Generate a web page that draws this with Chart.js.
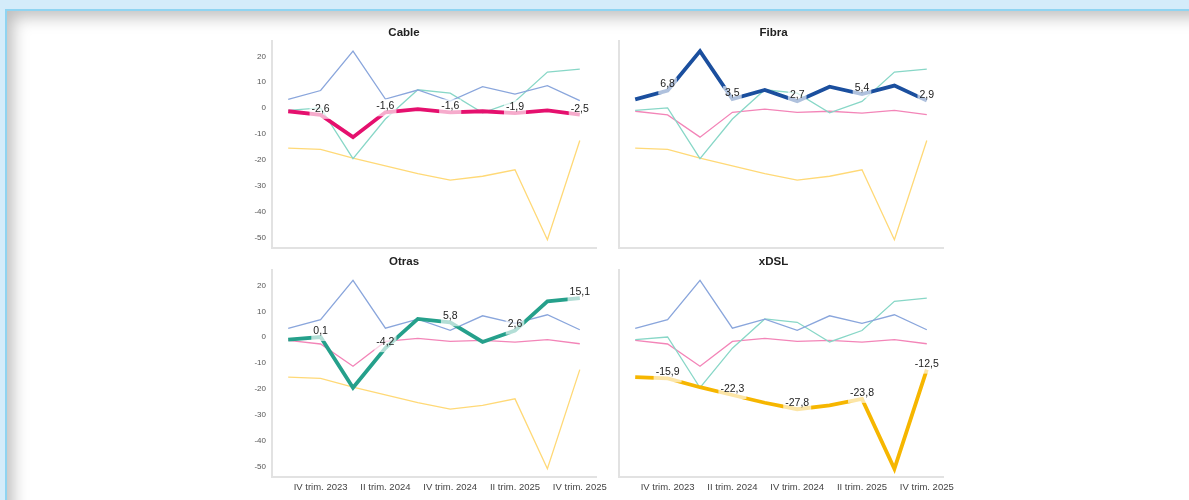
<!DOCTYPE html>
<html>
<head>
<meta charset="utf-8">
<script src="https://cdn.jsdelivr.net/npm/chart.js@4.4.1/dist/chart.umd.min.js"></script>
<style>
  html, body { margin: 0; padding: 0; width: 1189px; height: 500px; overflow: hidden; background: #d4ecfa; }
  .panel {
    position: absolute; left: 5px; top: 9px; right: -40px; bottom: -40px;
    background: #ffffff;
    border-left: 2px solid #8fd4f1; border-top: 2px solid #8fd4f1;
    box-shadow: inset 6px 6px 16px rgba(0, 0, 0, 0.26);
  }
  .box { position: absolute; }
</style>
</head>
<body>
<div class="panel"></div>
<div class="box" style="left:212px;top:20px;"><canvas id="cCable" width="392" height="232"></canvas></div>
<div class="box" style="left:604px;top:20px;"><canvas id="cFibra" width="347" height="232"></canvas></div>
<div class="box" style="left:212px;top:250px;"><canvas id="cOtras" width="420" height="251"></canvas></div>
<div class="box" style="left:604px;top:250px;"><canvas id="cXdsl" width="380" height="251"></canvas></div>
<script>
// trimestres
const labels = ["III trim. 2023", "IV trim. 2023", "I trim. 2024", "II trim. 2024", "III trim. 2024",
  "IV trim. 2024", "I trim. 2025", "II trim. 2025", "III trim. 2025", "IV trim. 2025"];
// variación interanual (%) por tecnología
const cable = [-1.2, -2.6, -11.2, -1.6, -0.4, -1.6, -1.2, -1.9, -0.9, -2.5];
const fibra = [3.4, 6.8, 22.0, 3.5, 7.0, 2.7, 8.3, 5.4, 8.7, 2.9];
const otras = [-0.9, 0.1, -19.5, -4.2, 7.1, 5.8, -1.8, 2.6, 13.9, 15.1];
const xdsl = [-15.4, -15.9, -19.3, -22.3, -25.3, -27.8, -26.3, -23.8, -50.8, -12.5];
const yTicks = [-50, -40, -30, -20, -10, 0, 10, 20];

const FONT = "'Liberation Sans', Arial, sans-serif";
const series = {
  Cable: { data: cable, strong: "#e5106e", soft: "#f385b8" },
  Fibra: { data: fibra, strong: "#1b4f9e", soft: "#8aa6dc" },
  Otras: { data: otras, strong: "#25a08b", soft: "#88d7c7" },
  xDSL: { data: xdsl, strong: "#f6b600", soft: "#ffd977" },
};
const order = ["Fibra", "Otras", "Cable", "xDSL"];

// etiquetas de valor con fondo blanco translúcido
const valueLabels = {
  id: "valueLabels",
  afterDatasetsDraw(chart) {
    const ctx = chart.ctx;
    const idx = chart.data.datasets.findIndex(d => d.highlight);
    const meta = chart.getDatasetMeta(idx);
    const vals = chart.data.datasets[idx].data;
    ctx.save();
    ctx.font = "10.5px " + FONT;
    ctx.textAlign = "center";
    ctx.textBaseline = "middle";
    meta.data.forEach((pt, i) => {
      if (i % 2 !== 1) return;
      const txt = vals[i].toFixed(1).replace(".", ",");
      const w = ctx.measureText(txt).width;
      ctx.fillStyle = "rgba(255,255,255,0.65)";
      ctx.fillRect(pt.x - w / 2 - 2, pt.y - 13, w + 4, 17);
      ctx.fillStyle = "#222";
      ctx.fillText(txt, pt.x, pt.y - 6);
    });
    ctx.restore();
  },
};

function makeChart(id, name, left, bottom, padRight) {
  const datasets = [];
  order.forEach(k => {
    if (k === name) return;
    datasets.push({ data: series[k].data, borderColor: series[k].soft, borderWidth: 1.3, order: 2 });
  });
  datasets.push({ data: series[name].data, borderColor: series[name].strong, borderWidth: 3.8, order: 1, highlight: true });
  datasets.forEach(d => { d.pointRadius = 0; d.tension = 0; d.fill = false; });

  new Chart(document.getElementById(id), {
    type: "line",
    data: { labels: labels, datasets: datasets },
    plugins: [valueLabels],
    options: {
      responsive: false,
      animation: false,
      layout: { padding: { right: padRight, bottom: bottom ? 0 : 4, left: 0, top: 0 } },
      plugins: {
        legend: { display: false },
        tooltip: { enabled: false },
        title: {
          display: true, text: name, color: "#222",
          font: { family: FONT, size: 11.5, weight: "bold" },
          padding: bottom ? { top: 5, bottom: 1.2 } : { top: 6, bottom: 1 },
        },
      },
      scales: {
        x: {
          offset: true,
          grid: { display: false, drawTicks: false },
          border: { display: true, color: "#e2e2e2", width: 2 },
          ticks: {
            display: bottom, autoSkip: false, maxRotation: 0, padding: 5, color: "#444",
            font: { family: FONT, size: 9.5 },
            callback: (v, i) => (i % 2 === 1 ? labels[i] : ""),
          },
          afterFit: s => {
            s.height = bottom ? 24 : 0;
            s.paddingLeft = 0; s.paddingRight = 0;
          },
        },
        y: {
          min: -54, max: 26,
          grid: { display: false, drawTicks: false },
          border: { display: true, color: "#e2e2e2", width: 2 },
          ticks: { display: left, padding: 6, color: "#555", font: { family: FONT, size: 8 } },
          afterBuildTicks: s => { s.ticks = yTicks.map(v => ({ value: v })); },
          afterFit: s => {
            s.width = left ? 60 : 15;
            s.paddingTop = 0; s.paddingBottom = 0;
          },
        },
      },
    },
  });
}

makeChart("cCable", "Cable", true, false, 8);
makeChart("cFibra", "Fibra", false, false, 8);
makeChart("cOtras", "Otras", true, true, 36);
makeChart("cXdsl", "xDSL", false, true, 41);
</script>
</body>
</html>
